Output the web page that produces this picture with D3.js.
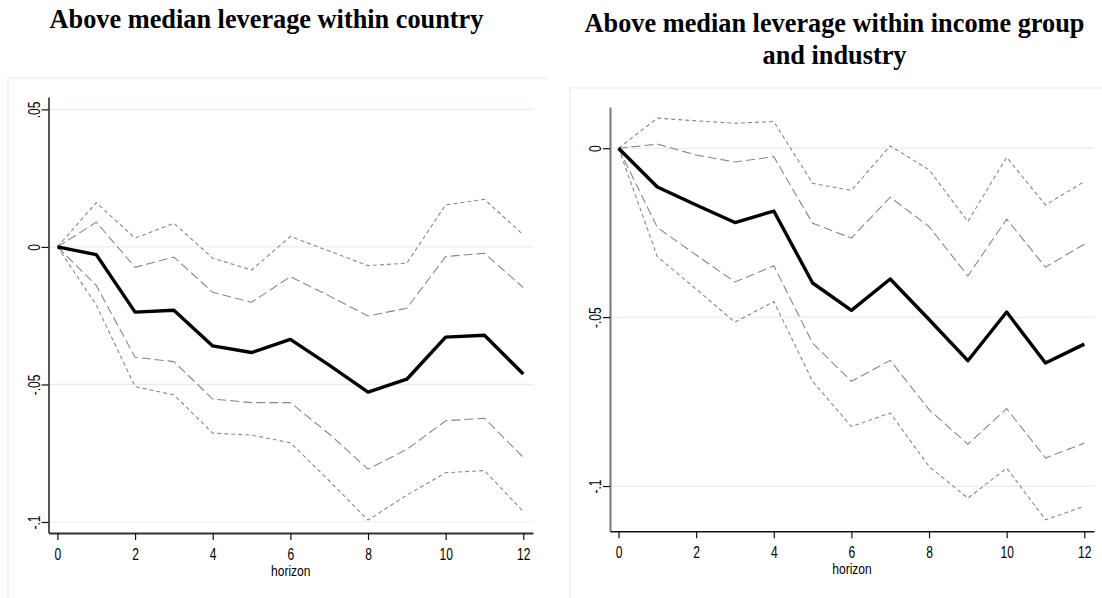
<!DOCTYPE html>
<html>
<head>
<meta charset="utf-8">
<script src="https://cdn.jsdelivr.net/npm/d3@7"></script>
<style>
  html, body { margin: 0; padding: 0; background: #fff; }
  svg { display: block; }
</style>
</head>
<body>
<svg id="chart" width="1102" height="598"></svg>
<script>
// Horizons of the local projection
const horizons = [0, 1, 2, 3, 4, 5, 6, 7, 8, 9, 10, 11, 12];
const xTicks = [0, 2, 4, 6, 8, 10, 12];

// Panel A: above median leverage within country
const countryPoint  = [0, -0.0028, -0.0237, -0.0230, -0.0360, -0.0384, -0.0336, -0.0430, -0.0528, -0.0481, -0.0328, -0.0321, -0.0462];
const countryUp90   = [0,  0.0090, -0.0074, -0.0037, -0.0165, -0.0201, -0.0108, -0.0178, -0.0251, -0.0223, -0.0035, -0.0023, -0.0148];
const countryLo90   = [0, -0.0140, -0.0401, -0.0417, -0.0553, -0.0566, -0.0566, -0.0680, -0.0808, -0.0736, -0.0632, -0.0623, -0.0765];
const countryUp95   = [0,  0.0161,  0.0032,  0.0086, -0.0041, -0.0084,  0.0038, -0.0015, -0.0068, -0.0059,  0.0153,  0.0173,  0.0044];
const countryLo95   = [0, -0.0211, -0.0508, -0.0538, -0.0677, -0.0684, -0.0712, -0.0850, -0.0993, -0.0902, -0.0821, -0.0813, -0.0962];
const countryYTicks = [0.05, 0, -0.05, -0.1];
const countryYLabels = [".05", "0", "-.05", "-.1"];

// Panel B: above median leverage within income group and industry
const groupPoint  = [0, -0.0115, -0.0168, -0.0220, -0.0186, -0.0399, -0.0480, -0.0387, -0.0507, -0.0629, -0.0485, -0.0636, -0.0580];
const groupUp90   = [0,  0.0012, -0.0020, -0.0041, -0.0025, -0.0222, -0.0266, -0.0145, -0.0232, -0.0378, -0.0210, -0.0352, -0.0284];
const groupLo90   = [0, -0.0235, -0.0316, -0.0396, -0.0348, -0.0577, -0.0690, -0.0628, -0.0774, -0.0876, -0.0771, -0.0917, -0.0873];
const groupUp95   = [0,  0.0089,  0.0081,  0.0074,  0.0079, -0.0104, -0.0125,  0.0007, -0.0064, -0.0217, -0.0027, -0.0168, -0.0099];
const groupLo95   = [0, -0.0321, -0.0417, -0.0515, -0.0454, -0.0690, -0.0824, -0.0784, -0.0942, -0.1036, -0.0947, -0.1100, -0.1060];
const groupYTicks = [0, -0.05, -0.1];
const groupYLabels = ["0", "-.05", "-.1"];

const xLabel = "horizon";

const svg = d3.select("#chart");

const panels = [
  {
    title: ["Above median leverage within country"],
    titleX: 266.5, titleY: 27.5,
    frame: { x: 8, y: 78, right: 547 },
    plot: { left: 48.5, right: 533, top: 97, bottom: 533 },
    xDomain: [-0.23, 12.25],
    yDomain: [-0.104, 0.0545],
    yTicks: countryYTicks, yLabels: countryYLabels,
    series: { point: countryPoint, up90: countryUp90, lo90: countryLo90, up95: countryUp95, lo95: countryLo95 },
    yAxisColor: "#111", yAxisWidth: 1.4,
    xAxisColor: "#333", xAxisWidth: 2
  },
  {
    title: ["Above median leverage within income group", "and industry"],
    titleX: 834.5, titleY: 32,
    frame: { x: 570, y: 88, right: 1102 },
    plot: { left: 610, right: 1094, top: 107, bottom: 531.3 },
    xDomain: [-0.22, 12.25],
    yDomain: [-0.1134, 0.0122],
    yTicks: groupYTicks, yLabels: groupYLabels,
    series: { point: groupPoint, up90: groupUp90, lo90: groupLo90, up95: groupUp95, lo95: groupLo95 },
    yAxisColor: "#777", yAxisWidth: 2,
    xAxisColor: "#111", xAxisWidth: 1.6
  }
];

const condense = 0.71;

panels.forEach(p => {
  const g = svg.append("g");

  // Outer graph region border (top and left edges)
  g.append("path")
    .attr("d", `M${p.frame.x},598 L${p.frame.x},${p.frame.y} L${p.frame.right},${p.frame.y}`)
    .attr("fill", "none")
    .attr("stroke", "#e3ecee")
    .attr("stroke-width", 1.2);

  // Title
  const title = g.append("text")
    .attr("x", p.titleX)
    .attr("y", p.titleY)
    .attr("text-anchor", "middle")
    .attr("font-family", "'Liberation Serif', 'Times New Roman', serif")
    .attr("font-weight", "bold")
    .attr("font-size", 26.3)
    .attr("fill", "#000");
  p.title.forEach((line, i) => {
    title.append("tspan")
      .attr("x", p.titleX)
      .attr("dy", i === 0 ? 0 : 32)
      .text(line);
  });

  const x = d3.scaleLinear().domain(p.xDomain).range([p.plot.left, p.plot.right]);
  const y = d3.scaleLinear().domain(p.yDomain).range([p.plot.bottom, p.plot.top]);

  // Horizontal grid lines at the y ticks
  g.append("g")
    .selectAll("line")
    .data(p.yTicks)
    .join("line")
    .attr("x1", p.plot.left)
    .attr("x2", p.plot.right)
    .attr("y1", d => y(d))
    .attr("y2", d => y(d))
    .attr("stroke", "#e4eef0")
    .attr("stroke-width", 1.2);

  // Y axis
  const yAxis = g.append("g")
    .attr("transform", `translate(${p.plot.left},0)`)
    .call(d3.axisLeft(y)
      .tickValues(p.yTicks)
      .tickFormat((d, i) => p.yLabels[i])
      .tickSize(7)
      .tickSizeOuter(0));
  yAxis.select(".domain")
    .attr("stroke", p.yAxisColor)
    .attr("stroke-width", p.yAxisWidth);
  yAxis.selectAll(".tick line").attr("stroke", "#111").attr("stroke-width", 1.2);
  yAxis.selectAll(".tick text")
    .attr("x", null).attr("dy", null).attr("y", 0)
    .attr("text-anchor", "middle")
    .attr("font-family", "'Liberation Sans', Arial, sans-serif")
    .attr("font-size", 17)
    .attr("fill", "#000")
    .attr("transform", `translate(-9,0) rotate(-90) scale(${condense},1)`);

  // X axis
  const xAxis = g.append("g")
    .attr("transform", `translate(0,${p.plot.bottom})`)
    .call(d3.axisBottom(x)
      .tickValues(xTicks)
      .tickFormat(d3.format("d"))
      .tickSize(7)
      .tickSizeOuter(0));
  xAxis.select(".domain")
    .attr("stroke", p.xAxisColor)
    .attr("stroke-width", p.xAxisWidth);
  xAxis.selectAll(".tick line").attr("stroke", "#111").attr("stroke-width", 1.2);
  xAxis.selectAll(".tick text")
    .attr("dy", null).attr("y", 27)
    .attr("font-family", "'Liberation Sans', Arial, sans-serif")
    .attr("font-size", 17)
    .attr("fill", "#000")
    .attr("transform", `scale(${condense},1)`);

  // Axis title
  g.append("text")
    .attr("transform", `translate(${(p.plot.left + p.plot.right) / 2},${p.plot.bottom + 43}) scale(0.78,1)`)
    .attr("text-anchor", "middle")
    .attr("font-family", "'Liberation Sans', Arial, sans-serif")
    .attr("font-size", 15.5)
    .attr("fill", "#000")
    .text(xLabel);

  const line = d3.line().x((d, i) => x(horizons[i])).y(d => y(d));

  // Confidence bands: outer short dash, inner long dash
  const bands = [
    { data: p.series.up95, dash: "4,3" },
    { data: p.series.lo95, dash: "4,3" },
    { data: p.series.up90, dash: "9,4" },
    { data: p.series.lo90, dash: "9,4" }
  ];
  g.append("g")
    .selectAll("path")
    .data(bands)
    .join("path")
    .attr("d", d => line(d.data))
    .attr("fill", "none")
    .attr("stroke", "#888")
    .attr("stroke-width", 1.1)
    .attr("stroke-dasharray", d => d.dash);

  // Point estimate
  g.append("path")
    .attr("d", line(p.series.point))
    .attr("fill", "none")
    .attr("stroke", "#000")
    .attr("stroke-width", 3.4)
    .attr("stroke-linejoin", "round");
});
</script>
</body>
</html>
